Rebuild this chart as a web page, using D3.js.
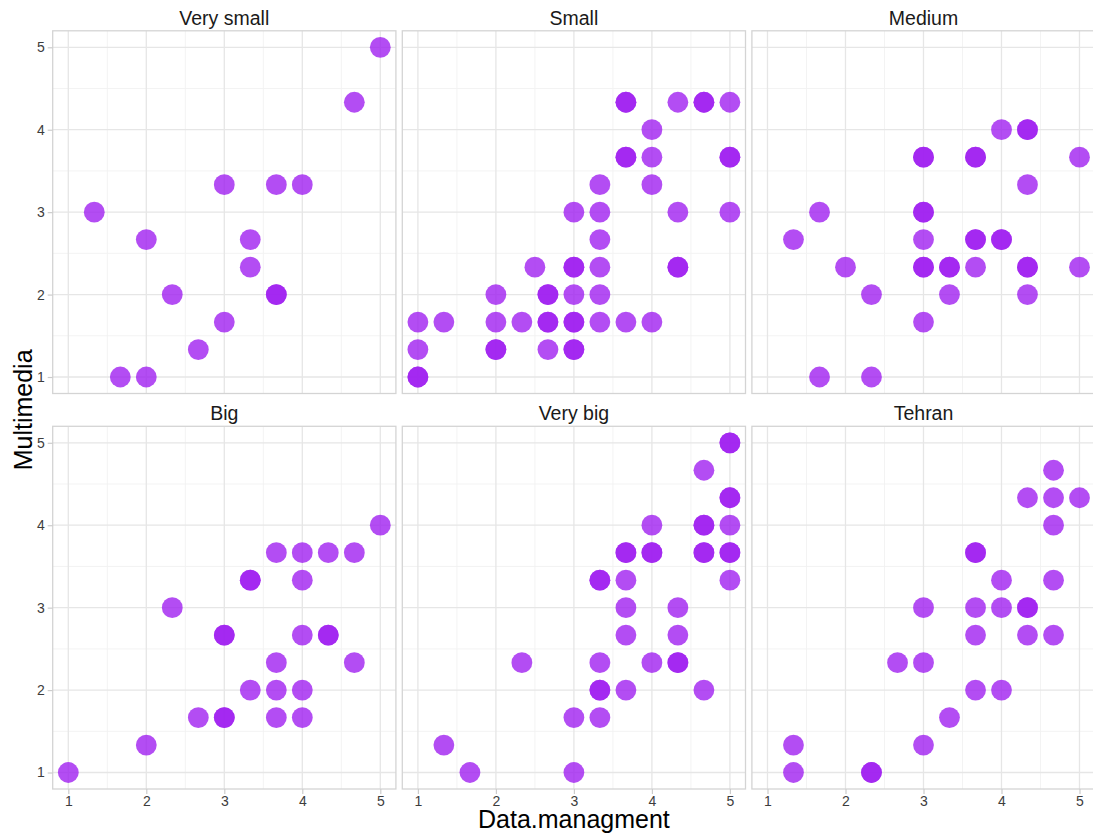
<!DOCTYPE html>
<html>
<head>
<meta charset="utf-8">
<script src="https://cdn.jsdelivr.net/npm/d3@7"></script>
<style>
  html, body { margin: 0; padding: 0; background: #ffffff; }
  svg { display: block; font-family: "Liberation Sans", Arial, Helvetica, sans-serif; }
</style>
</head>
<body>
<svg id="chart" width="1093" height="839"></svg>
<script>
// Facet labels (city size groups)
const facets = ["Very small", "Small", "Medium", "Big", "Very big", "Tehran"];

// Data.managment (x) and Multimedia (y) scores per facet; repeated pairs overlap
const xVerySmall = [5, 4.667, 1.333, 2, 3, 3.667, 4, 3.333, 3.333, 3.667, 3.667, 2.333, 3, 2.667, 1.667, 2];
const yVerySmall = [5, 4.333, 3, 2.667, 3.333, 3.333, 3.333, 2.667, 2.333, 2, 2, 2, 1.667, 1.333, 1, 1];

const xSmall = [3.667, 3.667, 4.333, 4.667, 4.667, 5,
  4,
  3.667, 3.667, 4, 5, 5,
  3.333, 4,
  3, 3.333, 4.333, 5,
  3.333,
  2.5, 3, 3, 3.333, 4.333, 4.333,
  2, 2.667, 2.667, 3, 3.333,
  1, 1.333, 2, 2.333, 2.667, 2.667, 3, 3, 3.333, 3.667, 4,
  1, 2, 2, 2.667, 3, 3,
  1, 1];
const ySmall = [4.333, 4.333, 4.333, 4.333, 4.333, 4.333,
  4,
  3.667, 3.667, 3.667, 3.667, 3.667,
  3.333, 3.333,
  3, 3, 3, 3,
  2.667,
  2.333, 2.333, 2.333, 2.333, 2.333, 2.333,
  2, 2, 2, 2, 2,
  1.667, 1.667, 1.667, 1.667, 1.667, 1.667, 1.667, 1.667, 1.667, 1.667, 1.667,
  1.333, 1.333, 1.333, 1.333, 1.333, 1.333,
  1, 1];

const xMedium = [4, 4.333, 4.333,
  3, 3, 3.667, 3.667, 5,
  4.333,
  1.667, 3, 3,
  1.333, 3, 3.667, 3.667, 4, 4,
  2, 3, 3, 3.333, 3.333, 3.667, 4.333, 4.333, 5,
  2.333, 3.333, 4.333,
  3,
  1.667, 2.333];
const yMedium = [4, 4, 4,
  3.667, 3.667, 3.667, 3.667, 3.667,
  3.333,
  3, 3, 3,
  2.667, 2.667, 2.667, 2.667, 2.667, 2.667,
  2.333, 2.333, 2.333, 2.333, 2.333, 2.333, 2.333, 2.333, 2.333,
  2, 2, 2,
  1.667,
  1, 1];

const xBig = [5,
  3.667, 4, 4.333, 4.667,
  3.333, 3.333, 4,
  2.333,
  3, 3, 4, 4.333, 4.333,
  3.667, 4.667,
  3.333, 3.667, 4,
  2.667, 3, 3, 3.667, 4,
  2,
  1];
const yBig = [4,
  3.667, 3.667, 3.667, 3.667,
  3.333, 3.333, 3.333,
  3,
  2.667, 2.667, 2.667, 2.667, 2.667,
  2.333, 2.333,
  2, 2, 2,
  1.667, 1.667, 1.667, 1.667, 1.667,
  1.333,
  1];

const xVeryBig = [5, 5,
  4.667,
  5, 5,
  4, 4.667, 4.667, 5,
  3.667, 3.667, 4, 4, 4.667, 4.667, 5, 5,
  3.333, 3.333, 3.667, 5,
  3.667, 4.333,
  3.667, 4.333,
  2.333, 3.333, 4, 4.333, 4.333,
  3.333, 3.333, 3.667, 4.667,
  3, 3.333,
  1.333,
  1.667, 3];
const yVeryBig = [5, 5,
  4.667,
  4.333, 4.333,
  4, 4, 4, 4,
  3.667, 3.667, 3.667, 3.667, 3.667, 3.667, 3.667, 3.667,
  3.333, 3.333, 3.333, 3.333,
  3, 3,
  2.667, 2.667,
  2.333, 2.333, 2.333, 2.333, 2.333,
  2, 2, 2, 2,
  1.667, 1.667,
  1.333,
  1, 1];

const xTehran = [4.667,
  4.333, 4.667, 5,
  4.667,
  3.667, 3.667,
  4, 4.667,
  3, 3.667, 4, 4.333, 4.333,
  3.667, 4.333, 4.667,
  2.667, 3,
  3.667, 4,
  3.333,
  1.333, 3,
  1.333, 2.333, 2.333];
const yTehran = [4.667,
  4.333, 4.333, 4.333,
  4,
  3.667, 3.667,
  3.333, 3.333,
  3, 3, 3, 3, 3,
  2.667, 2.667, 2.667,
  2.333, 2.333,
  2, 2,
  1.667,
  1.333, 1.333,
  1, 1, 1];

const tickValues = [1, 2, 3, 4, 5];
const minorValues = [1.5, 2.5, 3.5, 4.5];

const xSeries = [xVerySmall, xSmall, xMedium, xBig, xVeryBig, xTehran];
const ySeries = [yVerySmall, ySmall, yMedium, yBig, yVeryBig, yTehran];

// ---- layout ----
const svg = d3.select("#chart");
const nCols = 3;
const panelW = 343.2, panelH = 362.7;
const gapX = 6.4, gapY = 32.8;
const left0 = 52.7, top0 = 30.8;

const font = "'Liberation Sans', Arial, Helvetica, sans-serif";
const pointColor = "#A020F0";

const x = d3.scaleLinear().domain([0.8, 5.2]).range([0, panelW]);
const y = d3.scaleLinear().domain([0.8, 5.2]).range([panelH, 0]);

facets.forEach((name, i) => {
  const col = i % nCols, row = Math.floor(i / nCols);
  const px = left0 + col * (panelW + gapX);
  const py = top0 + row * (panelH + gapY);
  const g = svg.append("g").attr("transform", `translate(${px},${py})`);

  // minor grid
  g.append("g").selectAll("line").data(minorValues).join("line")
    .attr("x1", d => x(d)).attr("x2", d => x(d))
    .attr("y1", 0).attr("y2", panelH)
    .attr("stroke", "#f2f2f2").attr("stroke-width", 0.9);
  g.append("g").selectAll("line").data(minorValues).join("line")
    .attr("y1", d => y(d)).attr("y2", d => y(d))
    .attr("x1", 0).attr("x2", panelW)
    .attr("stroke", "#f2f2f2").attr("stroke-width", 0.9);

  // major grid
  g.append("g").selectAll("line").data(tickValues).join("line")
    .attr("x1", d => x(d)).attr("x2", d => x(d))
    .attr("y1", 0).attr("y2", panelH)
    .attr("stroke", "#e6e6e6").attr("stroke-width", 1.3);
  g.append("g").selectAll("line").data(tickValues).join("line")
    .attr("y1", d => y(d)).attr("y2", d => y(d))
    .attr("x1", 0).attr("x2", panelW)
    .attr("stroke", "#e6e6e6").attr("stroke-width", 1.3);

  // points
  const xs = xSeries[i], ys = ySeries[i];
  g.append("g").selectAll("circle").data(d3.range(xs.length)).join("circle")
    .attr("cx", k => x(xs[k]))
    .attr("cy", k => y(ys[k]))
    .attr("r", 10.4)
    .attr("fill", pointColor)
    .attr("fill-opacity", 0.8);

  // panel border
  g.append("rect")
    .attr("x", 0).attr("y", 0).attr("width", panelW).attr("height", panelH)
    .attr("fill", "none").attr("stroke", "#d4d4d4").attr("stroke-width", 1.3);

  // strip title
  svg.append("text")
    .attr("x", px + panelW / 2).attr("y", py - 6)
    .attr("text-anchor", "middle")
    .attr("font-family", font).attr("font-size", 19.5)
    .attr("fill", "#1a1a1a")
    .text(name);

  // y axis on the left column
  if (col === 0) {
    const ay = g.append("g").call(d3.axisLeft(y).tickValues(tickValues).tickSize(5).tickPadding(3).tickFormat(d3.format("d")));
    ay.select(".domain").remove();
    ay.selectAll(".tick line").attr("stroke", "#cccccc").attr("stroke-width", 1.2);
    ay.selectAll(".tick text").attr("font-family", font).style("font-size", "14px").attr("fill", "#3d3d3d");
  }
  // x axis on the bottom row
  if (row === 1) {
    const ax = g.append("g").attr("transform", `translate(0,${panelH})`)
      .call(d3.axisBottom(x).tickValues(tickValues).tickSize(5).tickPadding(2).tickFormat(d3.format("d")));
    ax.select(".domain").remove();
    ax.selectAll(".tick line").attr("stroke", "#cccccc").attr("stroke-width", 1.2);
    ax.selectAll(".tick text").attr("font-family", font).style("font-size", "14px").attr("fill", "#3d3d3d");
  }
});

// axis titles
const plotLeft = left0, plotRight = left0 + nCols * panelW + (nCols - 1) * gapX;
const plotTop = top0, plotBottom = top0 + 2 * panelH + gapY;

svg.append("text")
  .attr("x", (plotLeft + plotRight) / 2).attr("y", 828)
  .attr("text-anchor", "middle")
  .attr("font-family", font).attr("font-size", 25).attr("fill", "#000")
  .text("Data.managment");

svg.append("text")
  .attr("transform", `translate(32,${(plotTop + plotBottom) / 2}) rotate(-90)`)
  .attr("text-anchor", "middle")
  .attr("font-family", font).attr("font-size", 25).attr("fill", "#000")
  .text("Multimedia");
</script>
</body>
</html>
